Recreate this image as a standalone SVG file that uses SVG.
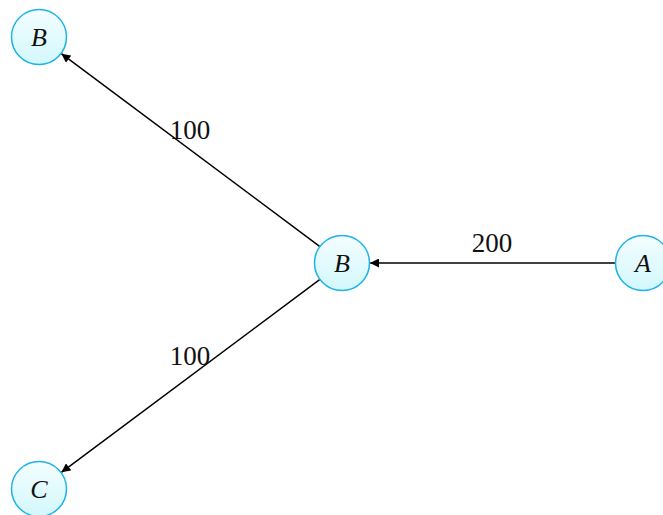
<svg xmlns="http://www.w3.org/2000/svg" width="663" height="515" viewBox="0 0 663 515">
<style>
.node circle{fill:url(#g);stroke:#1cb3e8;stroke-width:1.5}
.node text{font-family:"Liberation Serif","DejaVu Serif",serif;font-style:italic;font-size:26px;text-anchor:middle;fill:#111}
.edge line{stroke:#000;stroke-width:1.5;marker-end:url(#arr)}
.lbl{font-family:"Liberation Serif","DejaVu Serif",serif;font-size:27px;text-anchor:middle;fill:#111}
</style>
<defs>
<linearGradient id="g" x1="0" y1="0" x2="0" y2="1">
<stop offset="0" stop-color="#f4fdff"/>
<stop offset="1" stop-color="#d2f8fc"/>
</linearGradient>
<marker id="arr" viewBox="0 0 10 10" refX="10" refY="5" markerWidth="9" markerHeight="9" markerUnits="userSpaceOnUse" orient="auto">
<path d="M0,0 L10,5 L0,10 z" fill="#000"/>
</marker>
</defs>
<rect width="663" height="515" fill="#fff"/>
<g id="edges" class="edge">
<line x1="615" y1="263" x2="370" y2="263"/>
<line x1="319.6" y1="246.3" x2="61.4" y2="53.7"/>
<line x1="319.6" y1="279.7" x2="61.4" y2="472.3"/>
<text class="lbl" x="492" y="252">200</text>
<text class="lbl" x="190" y="139">100</text>
<text class="lbl" x="190" y="365">100</text>
</g>
<g id="nodeB1" class="node"><circle cx="39" cy="37" r="27.5"/><text x="39" y="46">B</text></g>
<g id="nodeB2" class="node"><circle cx="342" cy="263" r="27.5"/><text x="342" y="272">B</text></g>
<g id="nodeA" class="node"><circle cx="643" cy="263" r="27.5"/><text x="643" y="272">A</text></g>
<g id="nodeC" class="node"><circle cx="39" cy="489" r="27.5"/><text x="39" y="498">C</text></g>
</svg>
